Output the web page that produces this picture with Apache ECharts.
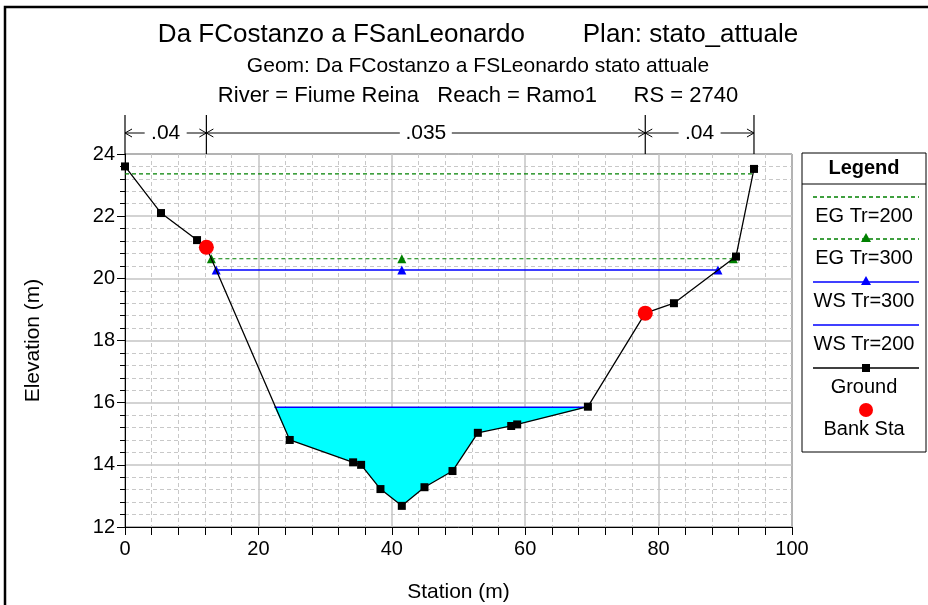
<!DOCTYPE html>
<html>
<head>
<meta charset="utf-8">
<script src="https://cdn.jsdelivr.net/npm/echarts@6/dist/echarts.min.js"></script>
<style>
  html, body { margin: 0; padding: 0; background: #fff; }
  #main { width: 928px; height: 605px; }
</style>
</head>
<body>
<div id="main"></div>
<script>
// sezione trasversale
const groundData = [
  [0, 23.6], [5.4, 22.1], [10.8, 21.23], [12.2, 21.0], [24.7, 14.8],
  [34.2, 14.08], [35.4, 14.0], [38.3, 13.22], [41.5, 12.68], [44.9, 13.28],
  [49.1, 13.8], [52.9, 15.03], [57.9, 15.25], [58.8, 15.3], [69.4, 15.87],
  [78.0, 18.88], [82.3, 19.2], [91.6, 20.7], [94.3, 23.52]
]
const bankData = [[12.2, 21.0], [78.0, 18.88]]
const egTr200 = [[0, 23.36], [94.3, 23.36]]
const egTr300 = [[12.95, 20.63], [41.5, 20.63], [91.2, 20.63]]
const wsTr300 = [[13.67, 20.27], [41.5, 20.27], [88.9, 20.27]]
const wsTr200 = [[22.4, 15.85], [69.35, 15.85]]
// area bagnata (pelo libero Tr=200 + fondo)
const wetArea = [
  [22.4, 15.85], [24.7, 14.8], [34.2, 14.08], [35.4, 14.0], [38.3, 13.22],
  [41.5, 12.68], [44.9, 13.28], [49.1, 13.8], [52.9, 15.03], [57.9, 15.25],
  [58.8, 15.3], [69.35, 15.85]
]
// tratti di scabrezza (Manning) sopra il grafico
const nStations = [0, 12.2, 78.0, 94.3]
const nLabels = ['.04', '.035', '.04']

const titleText = 'Da FCostanzo a FSanLeonardo        Plan: stato_attuale'
const geomText = 'Geom: Da FCostanzo a FSLeonardo stato attuale'
const rsText = 'River = Fiume Reina   Reach = Ramo1      RS = 2740'

const FONT = 'Liberation Sans, Arial, sans-serif'
const GREEN = '#008000'
const BLUE = '#0000ff'

const chart = echarts.init(document.getElementById('main'))

const option = {
  animation: false,
  textStyle: { fontFamily: FONT },
  title: [
    { text: titleText, left: 473, top: 17, textAlign: 'center',
      textStyle: { fontSize: 26, fontWeight: 'normal', color: '#000', fontFamily: FONT } },
    { text: geomText, left: 473, top: 51, textAlign: 'center',
      textStyle: { fontSize: 21, fontWeight: 'normal', color: '#000', fontFamily: FONT } },
    { text: rsText, left: 473, top: 80, textAlign: 'center',
      textStyle: { fontSize: 22, fontWeight: 'normal', color: '#000', fontFamily: FONT } }
  ],
  grid: {
    left: 125, right: 136, top: 154, bottom: 78,
    containLabel: false, outerBoundsMode: 'none',
    show: true, borderColor: '#000', borderWidth: 1, backgroundColor: 'transparent'
  },
  xAxis: {
    type: 'value', min: 0, max: 100, interval: 20,
    name: 'Station (m)', nameLocation: 'middle', nameGap: 55,
    nameTextStyle: { fontSize: 21, color: '#000', fontFamily: FONT },
    axisLine: { lineStyle: { color: '#000', width: 1 } },
    axisTick: { show: true, inside: false, length: 8, lineStyle: { color: '#000' } },
    minorTick: { show: true, splitNumber: 5, length: 8, lineStyle: { color: '#000' } },
    axisLabel: { fontSize: 20, color: '#000', margin: 12, fontFamily: FONT },
    splitLine: { show: true, lineStyle: { color: '#c4c4c4', width: 1.5 } },
    minorSplitLine: { show: true, lineStyle: { color: '#c8c8c8', type: [4, 3] } }
  },
  yAxis: {
    type: 'value', min: 12, max: 24, interval: 2,
    name: 'Elevation (m)', nameLocation: 'middle', nameGap: 81,
    nameTextStyle: { fontSize: 21, color: '#000', fontFamily: FONT },
    axisLine: { show: true, lineStyle: { color: '#000', width: 1 } },
    axisTick: { show: true, inside: false, length: 8, lineStyle: { color: '#000' } },
    minorTick: { show: true, splitNumber: 5, length: 5, lineStyle: { color: '#000' } },
    axisLabel: { fontSize: 20, color: '#000', margin: 10, fontFamily: FONT },
    splitLine: { show: true, lineStyle: { color: '#c4c4c4', width: 1.5 } },
    minorSplitLine: { show: true, lineStyle: { color: '#c8c8c8', type: [4, 3] } }
  },
  series: [
    {
      name: 'wet',
      type: 'custom',
      silent: true,
      z: 1,
      data: wetArea,
      renderItem: function (params, api) {
        if (params.dataIndex !== 0) return null
        const pts = wetArea.map(function (p) { return api.coord(p) })
        return {
          type: 'polygon',
          shape: { points: pts },
          style: { fill: '#00ffff', stroke: null }
        }
      }
    },
    {
      name: 'EG Tr=200', type: 'line', z: 3, symbol: 'none', data: egTr200,
      lineStyle: { color: GREEN, width: 1.2, type: [4, 3] }
    },
    {
      name: 'EG Tr=300', type: 'line', z: 3, symbol: 'triangle', symbolSize: 9, data: egTr300,
      lineStyle: { color: GREEN, width: 1.2, type: [4, 3] },
      itemStyle: { color: GREEN }
    },
    {
      name: 'WS Tr=300', type: 'line', z: 3, symbol: 'triangle', symbolSize: 9, data: wsTr300,
      lineStyle: { color: BLUE, width: 1.5 },
      itemStyle: { color: BLUE }
    },
    {
      name: 'WS Tr=200', type: 'line', z: 3, symbol: 'none', data: wsTr200,
      lineStyle: { color: BLUE, width: 1.5 }
    },
    {
      name: 'Ground', type: 'line', z: 4, symbol: 'rect', symbolSize: 8,
      data: groundData,
      lineStyle: { color: '#000', width: 1.3 },
      itemStyle: { color: '#000' }
    },
    {
      name: 'Bank Sta', type: 'scatter', z: 5, symbol: 'circle', symbolSize: 15,
      data: bankData,
      itemStyle: { color: '#ff0000', opacity: 1 }
    }
  ]
}
chart.setOption(option)

// elementi grafici: cornice, legenda, tratti di scabrezza
const g = []
g.push({ type: 'rect', shape: { x: 5, y: 7, width: 940, height: 620 },
  style: { fill: null, stroke: '#000', lineWidth: 2.5 }, z: 10, silent: true })

// legenda
const lx = 802, ly = 153, lw = 124, lh = 299
g.push({ type: 'rect', shape: { x: lx, y: ly, width: lw, height: lh },
  style: { fill: '#fff', stroke: '#000', lineWidth: 1 }, z: 10 })
g.push({ type: 'line', shape: { x1: lx, y1: 184, x2: lx + lw, y2: 184 },
  style: { stroke: '#000', lineWidth: 1 }, z: 11 })
g.push({ type: 'text', x: lx + lw / 2, y: 168, z: 11,
  style: { text: 'Legend', font: 'bold 20px ' + FONT, fill: '#000', align: 'center', verticalAlign: 'middle' } })

const legItems = [
  { label: 'EG Tr=200', y: 197, color: GREEN, dash: [4, 3], sym: null },
  { label: 'EG Tr=300', y: 239, color: GREEN, dash: [4, 3], sym: 'tri' },
  { label: 'WS Tr=300', y: 282, color: BLUE, dash: null, sym: 'tri' },
  { label: 'WS Tr=200', y: 325, color: BLUE, dash: null, sym: null },
  { label: 'Ground', y: 368, color: '#000', dash: null, sym: 'rect' },
  { label: 'Bank Sta', y: 410, color: '#ff0000', dash: null, sym: 'circle' }
]
const midX = 866
legItems.forEach(function (it) {
  if (it.sym !== 'circle') {
    g.push({ type: 'line', shape: { x1: 813, y1: it.y, x2: 919, y2: it.y }, z: 11,
      style: { stroke: it.color, lineWidth: 1.3, lineDash: it.dash } })
  }
  if (it.sym === 'tri') {
    g.push({ type: 'polygon', z: 12,
      shape: { points: [[midX - 5, it.y + 3], [midX + 5, it.y + 3], [midX, it.y - 6]] },
      style: { fill: it.color } })
  } else if (it.sym === 'rect') {
    g.push({ type: 'rect', z: 12, shape: { x: midX - 4, y: it.y - 4, width: 8, height: 8 },
      style: { fill: '#000' } })
  } else if (it.sym === 'circle') {
    g.push({ type: 'circle', z: 12, shape: { cx: midX, cy: it.y, r: 7 },
      style: { fill: '#ff0000' } })
  }
  g.push({ type: 'text', x: lx + lw / 2, y: it.y + 19, z: 11,
    style: { text: it.label, font: '20px ' + FONT, fill: '#000', align: 'center', verticalAlign: 'middle' } })
})

// tratti n di Manning
const topY = 115, arrowY = 133, plotTop = 154
const px = nStations.map(function (s) { return chart.convertToPixel({ gridIndex: 0 }, [s, 24])[0] })
px.forEach(function (x) {
  g.push({ type: 'line', z: 11, shape: { x1: x, y1: topY, x2: x, y2: plotTop },
    style: { stroke: '#000', lineWidth: 1.2 } })
})
function arrowHead(x, dir) {
  // dir = -1 freccia verso sinistra, 1 verso destra
  return { type: 'polyline', z: 11,
    shape: { points: [[x - dir * 7, arrowY - 4], [x, arrowY], [x - dir * 7, arrowY + 4]] },
    style: { stroke: '#000', lineWidth: 1, fill: null } }
}
nLabels.forEach(function (lab, i) {
  const a = px[i], b = px[i + 1]
  const c = (a + b) / 2
  const half = lab.length * 5 + 6
  g.push({ type: 'text', x: c, y: arrowY, z: 11,
    style: { text: lab, font: '21px ' + FONT, fill: '#000', align: 'center', verticalAlign: 'middle' } })
  g.push({ type: 'line', z: 11, shape: { x1: a, y1: arrowY, x2: c - half, y2: arrowY },
    style: { stroke: '#000', lineWidth: 1 } })
  g.push({ type: 'line', z: 11, shape: { x1: c + half, y1: arrowY, x2: b, y2: arrowY },
    style: { stroke: '#000', lineWidth: 1 } })
  g.push(arrowHead(a, -1))
  g.push(arrowHead(b, 1))
})

chart.setOption({ graphic: g })
</script>
</body>
</html>
